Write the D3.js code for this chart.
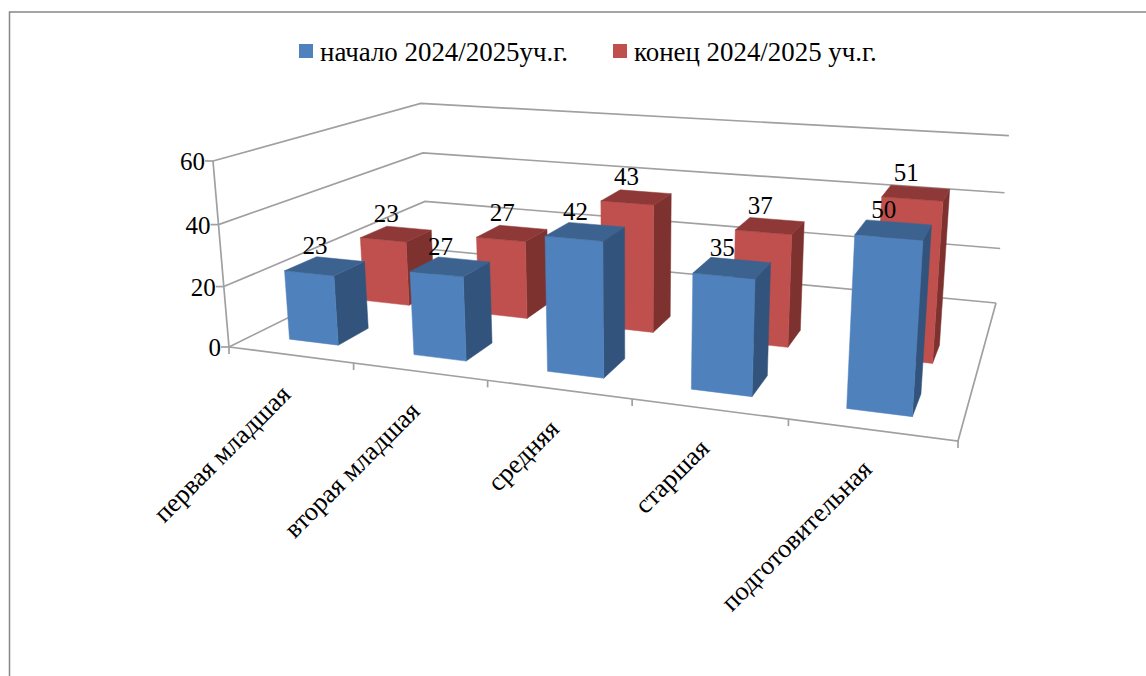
<!DOCTYPE html>
<html>
<head>
    <meta charset="utf-8">
    <script src="https://d3js.org/d3.v7.min.js"></script>
    <style>
        body { margin: 0; background: white; }
        text { font-family: "Liberation Serif", serif; font-size: 25px; fill: #000; }
        .legend-label { font-size: 26.9px; }
        .cat-label { font-size: 26.4px; }
    </style>
</head>
<body>
    <div id="my_dataviz"></div>
    <script>
        var categories = ["первая младшая", "вторая младшая", "средняя", "старшая", "подготовительная"];
        var seriesNames = ["начало 2024/2025уч.г.", "конец 2024/2025 уч.г."];
        var startValues = [23, 27, 42, 35, 50];
        var endValues = [23, 27, 43, 37, 51];
        var yTicks = [0, 20, 40, 60];

        var width = 1146, height = 676;

        var svg = d3.select("#my_dataviz").append("svg")
            .attr("width", width)
            .attr("height", height)
            .style("display", "block");

        // outer chart border, the right and bottom edges are cut off by the picture
        svg.append("path")
            .attr("d", "M9.5," + height + "V12H" + width)
            .attr("fill", "none")
            .attr("stroke", "#868686")
            .attr("stroke-width", 1.5);

        // camera of the 3d box: floor corners (front-left, front-right, back-right, back-left),
        // the point where the verticals meet, and how strong the height is
        var floorCorners = [[229, 347], [958, 441], [996, 303], [427, 249]];
        var verticalVanish = [632, 5031];
        var heightStrength = -0.0382;

        // homography of the unit square onto the floor quad
        function quadMap(q) {
            var dx1 = q[1][0] - q[2][0], dx2 = q[3][0] - q[2][0], sx = q[0][0] - q[1][0] + q[2][0] - q[3][0];
            var dy1 = q[1][1] - q[2][1], dy2 = q[3][1] - q[2][1], sy = q[0][1] - q[1][1] + q[2][1] - q[3][1];
            var den = dx1 * dy2 - dx2 * dy1;
            var g = (sx * dy2 - dx2 * sy) / den, h = (dx1 * sy - sx * dy1) / den;
            var a = q[1][0] - q[0][0] + g * q[1][0], b = q[3][0] - q[0][0] + h * q[3][0];
            var d = q[1][1] - q[0][1] + g * q[1][1], e = q[3][1] - q[0][1] + h * q[3][1];
            return function (u, v) {
                return [a * u + b * v + q[0][0], d * u + e * v + q[0][1], g * u + h * v + 1];
            };
        }
        var floorMap = quadMap(floorCorners);

        var x = d3.scaleBand().domain(categories).range([0, 1]).paddingInner(0.6).paddingOuter(0.3);
        var tickX = d3.scaleBand().domain(categories).range([0, 1]);
        var z = d3.scaleBand().domain(seriesNames).range([0.10, 0.59]).paddingInner(0.6);
        var y = d3.scaleLinear().domain([0, 60]).range([0, 1]);

        // u along categories, v into the depth, value up
        function project(u, v, value) {
            var p = floorMap(u, v), k = y(value) * heightStrength;
            var w = p[2] + k;
            return [(p[0] + k * verticalVanish[0]) / w, (p[1] + k * verticalVanish[1]) / w];
        }

        var line = d3.line();
        var gridColor = "#a0a0a0";

        function gridLine(points) {
            svg.append("path")
                .attr("d", line(points))
                .attr("fill", "none")
                .attr("stroke", gridColor)
                .attr("stroke-width", 1.7);
        }

        // walls
        yTicks.forEach(function (t) {
            gridLine([project(0, 0, t), project(0, 1, t), project(1, 1, t)]);
            var p = project(0, 0, t);
            gridLine([[p[0] - 8, p[1]], p]);
            svg.append("text")
                .attr("x", p[0] - 8)
                .attr("y", p[1] + 9)
                .attr("text-anchor", "end")
                .text(t);
        });
        gridLine([project(0, 0, 0), project(0, 0, 60)]);

        // floor front and right edge
        gridLine([project(0, 0, 0), project(1, 0, 0), project(1, 1, 0)]);
        d3.range(categories.length + 1).forEach(function (i) {
            var p = project(i / categories.length, 0, 0);
            gridLine([p, [p[0], p[1] + 7]]);
        });

        // category labels
        categories.forEach(function (c) {
            var p = project(tickX(c) + tickX.bandwidth() / 2, 0, 0);
            svg.append("text")
                .attr("class", "cat-label")
                .attr("transform", "translate(" + (p[0] + 2) + "," + (p[1] + 41) + ") rotate(-45)")
                .attr("text-anchor", "end")
                .text(c);
        });

        var palettes = [
            { front: "#4f81bd", side: "#32547c", top: "#3c6390" },
            { front: "#c0504d", side: "#7e3230", top: "#8e3937" }
        ];

        function bar(name, cat, value, colors) {
            var u0 = x(cat), u1 = u0 + x.bandwidth();
            var v0 = z(name), v1 = v0 + z.bandwidth();
            var g = svg.append("g");
            function face(points, fill) {
                g.append("path")
                    .attr("d", line(points) + "Z")
                    .attr("fill", fill)
                    .attr("stroke", fill)
                    .attr("stroke-width", 0.5);
            }
            face([project(u1, v0, 0), project(u1, v1, 0), project(u1, v1, value), project(u1, v0, value)], colors.side);
            face([project(u0, v0, 0), project(u1, v0, 0), project(u1, v0, value), project(u0, v0, value)], colors.front);
            face([project(u0, v0, value), project(u1, v0, value), project(u1, v1, value), project(u0, v1, value)], colors.top);
        }

        // back row first, then the front row over it
        categories.forEach(function (c, i) { bar(seriesNames[1], c, endValues[i], palettes[1]); });
        categories.forEach(function (c, i) { bar(seriesNames[0], c, startValues[i], palettes[0]); });

        // data labels go over all the bars
        [[seriesNames[0], startValues], [seriesNames[1], endValues]].forEach(function (s) {
            categories.forEach(function (c, i) {
                var p = project(x(c) + x.bandwidth() / 2, z(s[0]) + z.bandwidth() / 2, s[1][i]);
                svg.append("text")
                    .attr("x", p[0] - 10)
                    .attr("y", p[1] - 12)
                    .attr("text-anchor", "middle")
                    .text(s[1][i]);
            });
        });

        // legend
        var legendX = [299, 613];
        seriesNames.forEach(function (name, i) {
            svg.append("rect")
                .attr("x", legendX[i])
                .attr("y", 44)
                .attr("width", 14)
                .attr("height", 14)
                .attr("fill", palettes[i].front);
            svg.append("text")
                .attr("class", "legend-label")
                .attr("x", legendX[i] + 21)
                .attr("y", 61)
                .text(name);
        });
    </script>
</body>
</html>
